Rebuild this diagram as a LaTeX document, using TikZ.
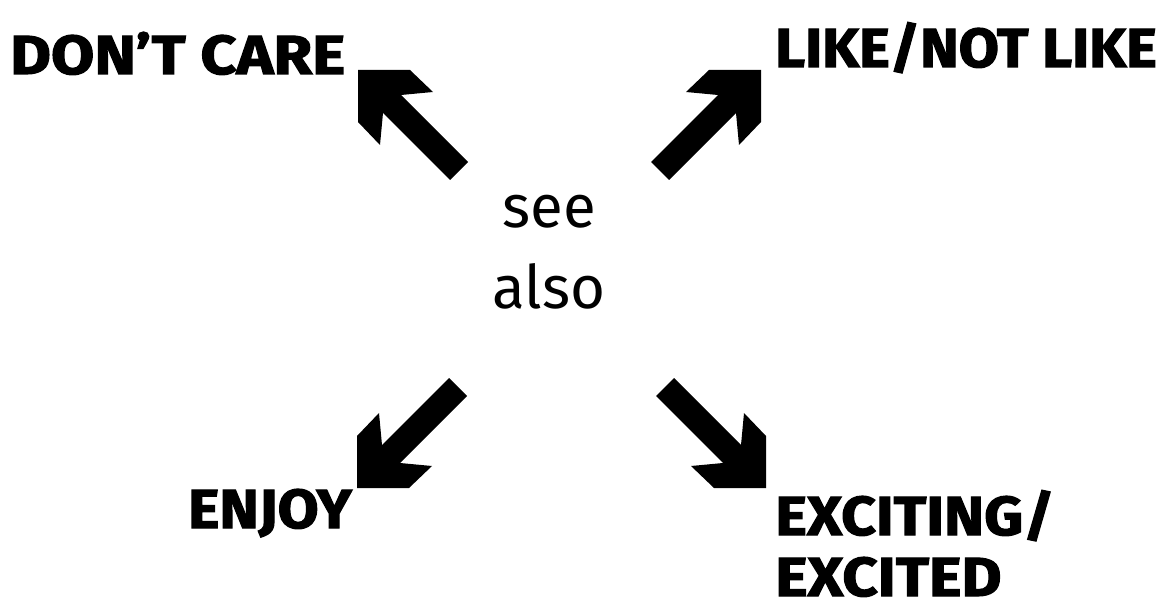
\documentclass[tikz,border=0pt]{standalone}
\usepackage{graphicx}
\usepackage{fontspec}
\newfontfamily\labelfont{Fira Sans}[BoldFeatures={FakeBold=2}]
\newfontfamily\centerfont{Fira Sans}
\newcommand\lblstretch[2]{\scalebox{#1}[1]{#2}}
\tikzset{
  lbl/.style={anchor=base west, inner sep=0pt, text depth=0pt, font=\labelfont\bfseries\fontsize{55}{58}\selectfont},
  ctr/.style={anchor=base, inner sep=0pt, font=\centerfont\fontsize{60}{70}\selectfont},
  pics/bigarr/.style={code={
    \fill[black] (0,0) -- (52,0) -- (75,22) -- (43,25) -- (110,92) -- (92,110)
      -- (25,43) -- (22,75) -- (0,52) -- cycle;}},
}
\begin{document}
\begin{tikzpicture}[x=1pt,y=-1pt]
\useasboundingbox (0,0) rectangle (1161,604);
\node[lbl] (dont) at (10,74) {\lblstretch{1.14}{DON’T CARE}};
\node[lbl] (like) at (775,67) {\lblstretch{1.06}{LIKE/NOT LIKE}};
\node[lbl] (enjoy) at (188,528) {\lblstretch{1.08}{ENJOY}};
\node[lbl] (exc1) at (775,535) {\lblstretch{1.10}{EXCITING/}};
\node[lbl] (exc2) at (775,596) {\lblstretch{1.12}{EXCITED}};
\node[ctr] (see) at (549,227) {see};
\node[ctr] (also) at (549,308) {also};
\coordinate (tNW) at (358,70);
\coordinate (tNE) at (761,70);
\coordinate (tSW) at (357,488);
\coordinate (tSE) at (766,488);
\pic at (tNW) {bigarr};
\pic[xscale=-1] at (tNE) {bigarr};
\pic[yscale=-1] at (tSW) {bigarr};
\pic[xscale=-1,yscale=-1] at (tSE) {bigarr};
\end{tikzpicture}
\end{document}
